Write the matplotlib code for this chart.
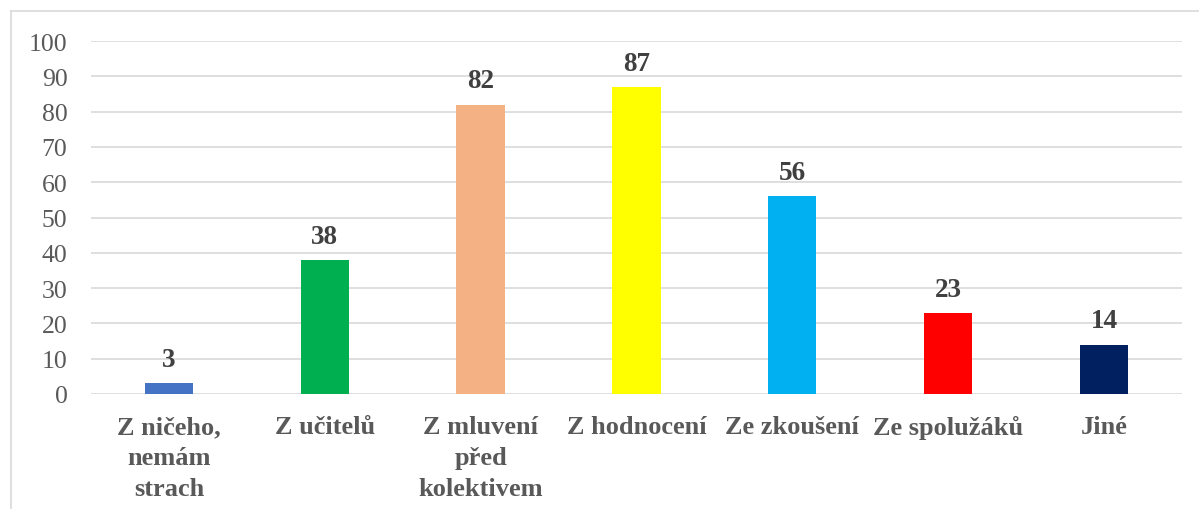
import matplotlib.pyplot as plt
from matplotlib.lines import Line2D

categories = ["Z ničeho,\nnemám\nstrach", "Z učitelů", "Z mluvení\npřed\nkolektivem",
              "Z hodnocení", "Ze zkoušení", "Ze spolužáků", "Jiné"]
values = [3, 38, 82, 87, 56, 23, 14]
colors = ["#4472C4", "#00B050", "#F4B183", "#FFFF00", "#00B0F0", "#FF0000", "#002060"]

plt.rcParams['font.family'] = ['Liberation Serif', 'DejaVu Serif']

fig = plt.figure(figsize=(11.99, 5.10), dpi=100)
ax = fig.add_axes([0.0759, 0.2255, 0.9099, 0.6921])

x = range(len(values))
bars = ax.bar(x, values, width=0.31, color=colors, zorder=3)
for b, v in zip(bars, values):
    ax.annotate(str(v), (b.get_x() + b.get_width() / 2, v), xytext=(0, 8),
                textcoords="offset points", ha="center", va="bottom",
                fontsize=19.5, fontweight="bold", color="#404040")

ax.set_ylim(0, 100)
ax.set_xlim(-0.5, len(values) - 0.5)
ax.set_yticks(range(0, 101, 10))
ax.yaxis.grid(True, color="#D9D9D9", linewidth=1.2, zorder=0)
ax.set_xticks(list(x))
ax.set_xticklabels(categories, fontsize=19, fontweight="bold", color="#595959",
                   linespacing=1.45, va="top")
ax.tick_params(axis="y", labelsize=18.5, labelcolor="#595959", length=0, pad=17)
ax.tick_params(axis="x", length=0, pad=15)
for s in ax.spines.values():
    s.set_visible(False)

# outer chart border (top and left visible)
fig.add_artist(Line2D([11 / 1199, 1], [1 - 12 / 510, 1 - 12 / 510], color="#D9D9D9",
                      linewidth=1.2, transform=fig.transFigure))
fig.add_artist(Line2D([11 / 1199, 11 / 1199], [0, 1 - 12 / 510], color="#D9D9D9",
                      linewidth=1.2, transform=fig.transFigure))

fig.savefig("out.png", dpi=100)
